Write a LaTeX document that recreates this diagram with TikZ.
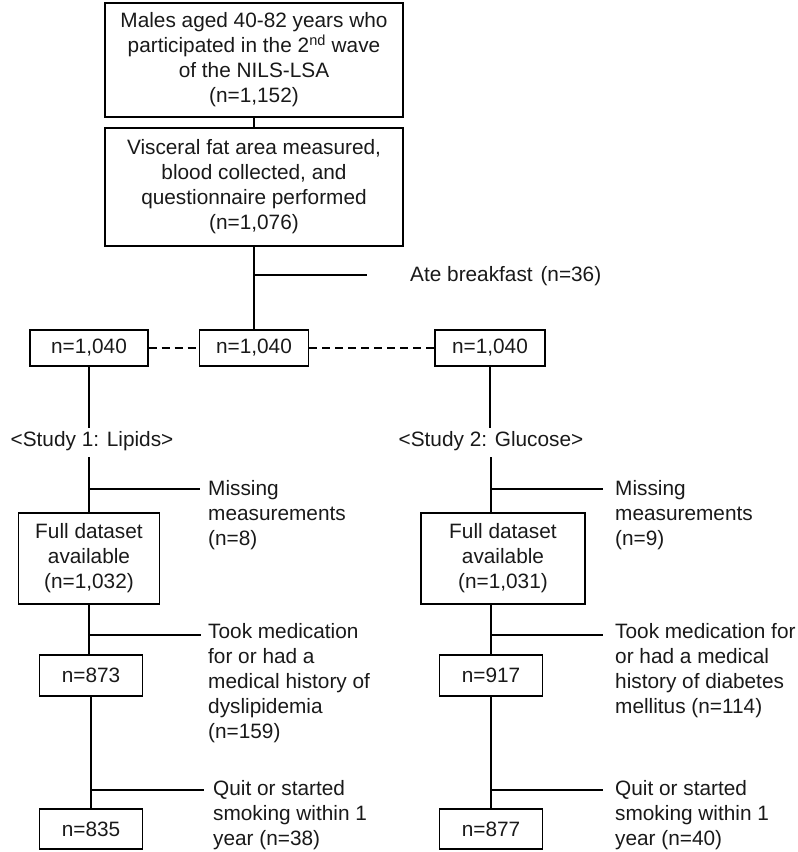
\documentclass[tikz,border=0pt]{standalone}
\usepackage{fontspec}
\setmainfont{Liberation Sans}
\begin{document}
\begin{tikzpicture}[x=1pt,y=-1pt,
  every node/.style={font=\fontsize{20.8}{25}\selectfont, text=black!90},
  box/.style={draw, line width=1.4pt, align=center, inner sep=0pt},
  lbl/.style={align=left, inner sep=0pt, anchor=north west},
  conn/.style={line width=1.4pt},
  dconn/.style={line width=1.4pt, dash pattern=on 8pt off 5pt}]
\useasboundingbox (0,0) rectangle (798,852);
% top boxes
\node[box, minimum width=298pt, minimum height=114pt] (b1) at (254,60)
  {Males aged 40-82 years who\\participated in the 2\textsuperscript{nd} wave\\of the NILS-LSA\\(n=1,152)};
\node[box, minimum width=298pt, minimum height=118pt] (b2) at (254,187)
  {Visceral fat area measured,\\blood collected, and\\questionnaire performed\\(n=1,076)};
\draw[conn] (b1.south) -- (b2.south |- b2.north);
% row
\node[box, minimum width=118pt, minimum height=36pt] (A) at (89,348) {n=1,040};
\node[box, minimum width=109pt, minimum height=36pt] (B) at (254,348) {n=1,040};
\node[box, minimum width=110pt, minimum height=36pt] (C) at (490,348) {n=1,040};
\draw[conn] (b2.south) -- (B.north);
\coordinate (ateb) at (254,275);
\coordinate (atee) at (367,275);
\draw[conn] (ateb) -- (atee);
\node[inner sep=0pt, anchor=west] (ate) at (410,276) {Ate breakfast\hspace{2pt} (n=36)};
\draw[dconn] (A.east) -- (B.west);
\draw[dconn] (B.east) -- (C.west);
% study labels
\node[inner sep=0pt] (s1) at (92,441) {<Study 1: Lipids>};
\node[inner sep=0pt] (s2) at (491,441) {<Study 2: Glucose>};
\coordinate (s1t) at (89,428);
\coordinate (s2t) at (490,428);
\draw[conn] (A.south) -- (s1t);
\draw[conn] (C.south) -- (s2t);
% left column
\node[box, minimum width=141pt, minimum height=91pt] (F1) at (89,558.5)
  {Full dataset\\available\\(n=1,032)};
\node[box, minimum width=103pt, minimum height=41pt] (L2) at (91,675.5) {n=873};
\node[box, minimum width=103pt, minimum height=40pt] (L3) at (91,829) {n=835};
\coordinate (s1b) at (89,457);
\draw[conn] (s1b) -- (F1.north);
\draw[conn] (F1.south) -- (F1.south |- L2.north);
\draw[conn] (L2.south) -- (L3.north);
\coordinate (m1a) at (89,489); \coordinate (m1b) at (200,489);
\coordinate (t1a) at (89,635); \coordinate (t1b) at (201,635);
\coordinate (q1a) at (91,790); \coordinate (q1b) at (204,790);
\draw[conn] (m1a) -- (m1b);
\draw[conn] (t1a) -- (t1b);
\draw[conn] (q1a) -- (q1b);
\node[lbl] (m1) at (208,480) {Missing\\measurements\\(n=8)};
\node[lbl] (t1) at (208,623) {Took medication\\for or had a\\medical history of\\dyslipidemia\\(n=159)};
\node[lbl] (q1) at (213,780) {Quit or started\\smoking within 1\\year (n=38)};
% right column
\node[box, minimum width=164pt, minimum height=91pt] (F2) at (503,558.5)
  {Full dataset\\available\\(n=1,031)};
\node[box, minimum width=103pt, minimum height=41pt] (R2) at (491,675.5) {n=917};
\node[box, minimum width=103pt, minimum height=40pt] (R3) at (491,829) {n=877};
\coordinate (s2b) at (491,457);
\draw[conn] (s2b) -- (s2b |- F2.north);
\draw[conn] (R2.north |- F2.south) -- (R2.north);
\draw[conn] (R2.south) -- (R3.north);
\coordinate (m2a) at (491,489); \coordinate (m2b) at (603,489);
\coordinate (t2a) at (491,635); \coordinate (t2b) at (603,635);
\coordinate (q2a) at (491,790); \coordinate (q2b) at (603,790);
\draw[conn] (m2a) -- (m2b);
\draw[conn] (t2a) -- (t2b);
\draw[conn] (q2a) -- (q2b);
\node[lbl] (m2) at (615,480) {Missing\\measurements\\(n=9)};
\node[lbl] (t2) at (615,623) {Took medication for\\or had a medical\\history of diabetes\\mellitus (n=114)};
\node[lbl] (q2) at (615,780) {Quit or started\\smoking within 1\\year (n=40)};
\end{tikzpicture}
\end{document}
